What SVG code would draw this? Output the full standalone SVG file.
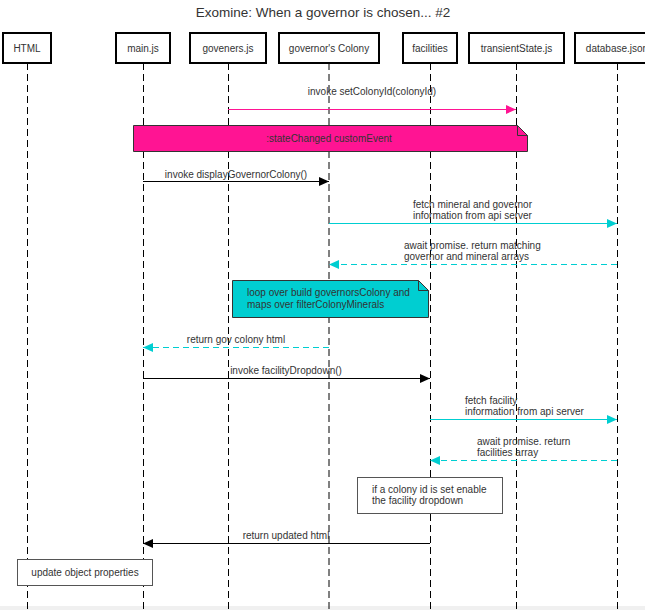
<svg xmlns="http://www.w3.org/2000/svg" width="645" height="610" viewBox="0 0 645 610">
<style>
text{font-family:"Liberation Sans",Arial,sans-serif;font-size:10px;fill:#333}
.title{font-size:13.5px;text-anchor:middle}
.c{text-anchor:middle}
.actor rect{fill:#fff;stroke:#000;stroke-width:2}
.life{stroke:#000;stroke-width:1;stroke-dasharray:7,4;fill:none}
.msg{fill:none;stroke-width:1}
.blk{stroke:#000}
.pink{stroke:#ff1493}
.cyan{stroke:#00ced1}
.dash{stroke-dasharray:6,4}
</style>
<defs>
<marker id="ab" markerWidth="10" markerHeight="9" refX="10" refY="4.5" orient="auto" markerUnits="userSpaceOnUse"><path d="M0,0 L10,4.5 L0,9 z" fill="#000"/></marker>
<marker id="ap" markerWidth="10" markerHeight="9" refX="10" refY="4.5" orient="auto" markerUnits="userSpaceOnUse"><path d="M0,0 L10,4.5 L0,9 z" fill="#ff1493"/></marker>
<marker id="ac" markerWidth="10" markerHeight="9" refX="10" refY="4.5" orient="auto" markerUnits="userSpaceOnUse"><path d="M0,0 L10,4.5 L0,9 z" fill="#00ced1"/></marker>
</defs>
<rect width="645" height="610" fill="#fff"/>
<rect x="0" y="606" width="645" height="4" fill="#f0f0f0"/>
<text class="title" x="323" y="17">Exomine: When a governor is chosen... #2</text>

<g id="lifelines">
<line class="life" x1="27.5" y1="63" x2="27.5" y2="610"/>
<line class="life" x1="143.5" y1="63" x2="143.5" y2="610"/>
<line class="life" x1="228.5" y1="63" x2="228.5" y2="610"/>
<line class="life" x1="329" y1="63" x2="329" y2="610"/>
<line class="life" x1="430.5" y1="63" x2="430.5" y2="610"/>
<line class="life" x1="516.5" y1="63" x2="516.5" y2="610"/>
<line class="life" x1="617.5" y1="63" x2="617.5" y2="610"/>
</g>

<g id="html" class="actor"><rect x="3" y="33" width="48" height="30"/><text class="c" x="27" y="52">HTML</text></g>
<g id="main" class="actor"><rect x="116" y="33" width="54" height="30"/><text class="c" x="143" y="52">main.js</text></g>
<g id="goveners" class="actor"><rect x="190" y="33" width="76" height="30"/><text class="c" x="228" y="52">goveners.js</text></g>
<g id="colony" class="actor"><rect x="279" y="33" width="100" height="30"/><text class="c" x="329" y="52">governor's Colony</text></g>
<g id="facilities" class="actor"><rect x="403" y="33" width="54" height="30"/><text class="c" x="430" y="52">facilities</text></g>
<g id="transient" class="actor"><rect x="469" y="33" width="95" height="30"/><text class="c" x="516.5" y="52">transientState.js</text></g>
<g id="database" class="actor"><rect x="575" y="33" width="84" height="30"/><text class="c" x="617" y="52">database.json</text></g>

<g id="connectors">
<line class="msg pink" x1="228" y1="109.5" x2="516" y2="109.5" marker-end="url(#ap)"/>
<text class="c" x="372" y="95">invoke setColonyId(colonyId)</text>

<line class="msg blk" x1="143" y1="181.5" x2="329" y2="181.5" marker-end="url(#ab)"/>
<text class="c" x="236" y="178">invoke displayGovernorColony()</text>

<line class="msg cyan" x1="329" y1="223.5" x2="617" y2="223.5" marker-end="url(#ac)"/>
<text x="413" y="208">fetch mineral and governor</text>
<text x="413" y="219">information from api server</text>

<line class="msg cyan dash" x1="617" y1="264.5" x2="329" y2="264.5" marker-end="url(#ac)"/>
<text x="404" y="249">await promise. return matching</text>
<text x="404" y="260">governor and mineral arrays</text>

<line class="msg cyan dash" x1="329" y1="347.5" x2="143" y2="347.5" marker-end="url(#ac)"/>
<text class="c" x="236" y="343">return gov colony html</text>

<line class="msg blk" x1="143" y1="378.5" x2="430" y2="378.5" marker-end="url(#ab)"/>
<text class="c" x="286" y="374">invoke facilityDropdown()</text>

<line class="msg cyan" x1="430" y1="419.5" x2="617" y2="419.5" marker-end="url(#ac)"/>
<text x="465" y="404">fetch facility</text>
<text x="465" y="415">information from api server</text>

<line class="msg cyan dash" x1="617" y1="460.5" x2="430" y2="460.5" marker-end="url(#ac)"/>
<text x="477" y="445">await promise. return</text>
<text x="477" y="456">facilities array</text>

<line class="msg blk" x1="430" y1="543.5" x2="143" y2="543.5" marker-end="url(#ab)"/>
<text class="c" x="286" y="539">return updated html</text>
</g>

<g id="note-state">
<path d="M133.5,125.5 H517.5 L527.5,135.5 V151.5 H133.5 Z" fill="#ff1493" stroke="#333"/>
<path d="M517.5,125.5 V135.5 H527.5" fill="none" stroke="#333"/>
<text class="c" x="329" y="142">:stateChanged customEvent</text>
</g>

<g id="note-loop">
<path d="M232.5,280.5 H418.5 L428.5,290.5 V317.5 H232.5 Z" fill="#00ced1" stroke="#333"/>
<path d="M418.5,280.5 V290.5 H428.5" fill="none" stroke="#333"/>
<text x="247" y="296">loop over build governorsColony and</text>
<text x="247" y="308">maps over filterColonyMinerals</text>
</g>

<g id="note-enable">
<rect x="357.5" y="477.5" width="145" height="36" fill="#fff" stroke="#555"/>
<text x="372" y="493">if a colony id is set enable</text>
<text x="372" y="504">the facility dropdown</text>
</g>

<g id="note-update">
<rect x="17.5" y="559.5" width="135" height="26" fill="#fff" stroke="#555"/>
<text class="c" x="85" y="576">update object properties</text>
</g>
</svg>
